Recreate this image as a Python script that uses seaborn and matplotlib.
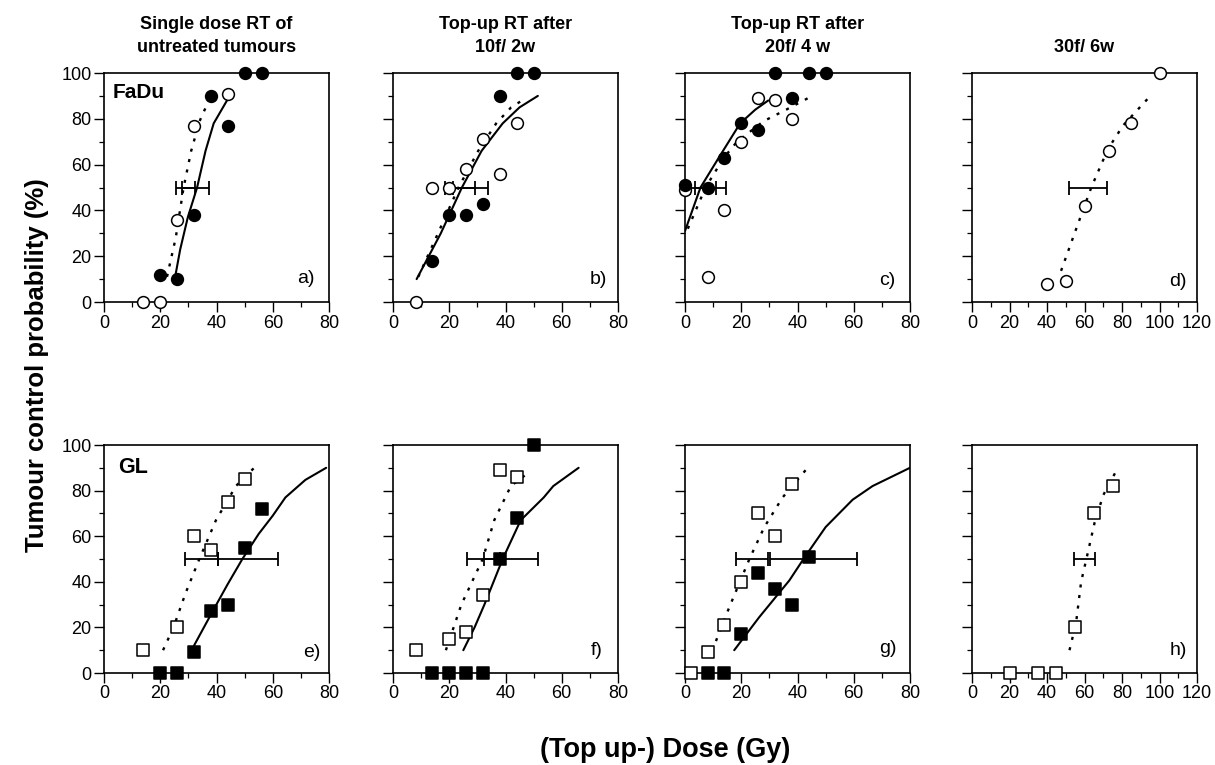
import matplotlib
matplotlib.use("Agg")
import matplotlib.pyplot as plt
import seaborn as sns
from matplotlib.ticker import MultipleLocator

# ---------------- data ----------------
# Panel a : FaDu, single dose RT of untreated tumours
a_filled_x = [20, 26, 32, 38, 44, 50, 56]
a_filled_y = [12, 10, 38, 90, 77, 100, 100]
a_open_x = [14, 20, 26, 32, 44]
a_open_y = [0, 0, 36, 77, 91]
a_solid_x = [25, 27.1, 29.8, 33.1, 36.1, 39, 44.2]
a_solid_y = [9, 23, 37, 50, 66, 78, 89]
a_dot_x = [22.4, 25.5, 28.3, 31, 34, 38]
a_dot_y = [11, 28, 50, 66, 79, 90]
a_err_open = [28.3, 27.6, 32.5]      # centre, low, high
a_err_filled = [31.5, 25.7, 37.3]

# Panel b : FaDu, top-up after 10f/2w
b_filled_x = [14, 20, 26, 32, 38, 44, 50]
b_filled_y = [18, 38, 38, 43, 90, 100, 100]
b_open_x = [8, 14, 20, 26, 32, 38, 44]
b_open_y = [0, 50, 50, 58, 71, 56, 78]
b_solid_x = [8.4, 17, 24.5, 31.5, 39, 45, 51.5]
b_solid_y = [10, 30, 50, 66, 78, 85, 90]
b_dot_x = [9, 16, 23.3, 30.3, 36.7, 42, 47.2]
b_dot_y = [11, 30, 50, 66, 78, 85, 89]
b_err_open = [23.3, 18.6, 29.2]
b_err_filled = [24.5, 21.5, 33.6]

# Panel c : FaDu, top-up after 20f/4w
c_filled_x = [0, 8, 14, 20, 26, 32, 38, 44, 50]
c_filled_y = [51, 50, 63, 78, 75, 100, 89, 100, 100]
c_open_x = [0, 8, 14, 20, 26, 32, 38]
c_open_y = [49, 11, 40, 70, 89, 88, 80]
c_solid_x = [0, 5.5, 12, 19.6, 25, 29.6]
c_solid_y = [31, 50, 63, 78, 84, 88]
c_dot_x = [1, 7.3, 13.8, 18.5, 28, 36, 43.7]
c_dot_y = [32, 50, 63, 70, 79, 84, 89]
c_err_open = [7.3, 1.8, 11.0]
c_err_filled = [5.5, 3.4, 14.7]

# Panel d : FaDu, 30f/6w
d_open_x = [40, 50, 60, 73, 85, 100]
d_open_y = [8, 9, 42, 66, 78, 100]
d_dot_x = [47.5, 55.5, 63.6, 72.5, 80.6, 94.9]
d_dot_y = [13.6, 31.8, 50, 66.8, 77.1, 89.8]
d_err_open = [63.6, 51.6, 72.0]

# Panel e : GL, single dose RT
e_filled_x = [20, 26, 32, 38, 44, 50, 56]
e_filled_y = [0, 0, 9, 27, 30, 55, 72]
e_open_x = [14, 26, 32, 38, 44, 50]
e_open_y = [10, 20, 60, 54, 75, 85]
e_solid_x = [32, 38.6, 44, 49.2, 55, 60, 64.5, 71.6, 79]
e_solid_y = [12, 27, 39, 50, 61, 69, 77, 84.7, 90]
e_dot_x = [21, 24.7, 29, 33.9, 39.8, 46.9, 53.4]
e_dot_y = [10, 20, 35, 50, 67, 82, 90]
e_err_open = [33.9, 28.9, 40.5]
e_err_filled = [49.2, 40.5, 61.9]

# Panel f : GL, top-up after 10f/2w
f_filled_x = [14, 20, 26, 32, 38, 44, 50]
f_filled_y = [0, 0, 0, 0, 50, 68, 100]
f_open_x = [8, 20, 26, 32, 38, 44]
f_open_y = [10, 15, 18, 34, 89, 86]
f_solid_x = [25, 29, 32.5, 39, 45.4, 53.6, 57, 66]
f_solid_y = [10, 20, 30, 50, 67, 77, 82, 90]
f_dot_x = [18.8, 24.3, 31.9, 36, 41.9, 48.3]
f_dot_y = [10, 30, 50, 67, 82, 88]
f_err_open = [31.9, 26.3, 38.0]
f_err_filled = [39.0, 32.5, 51.6]

# Panel g : GL, top-up after 20f/4w
g_filled_x = [8, 14, 20, 26, 32, 38, 44]
g_filled_y = [0, 0, 17, 44, 37, 30, 51]
g_open_x = [2, 8, 14, 20, 26, 32, 38]
g_open_y = [0, 9, 21, 40, 70, 60, 83]
g_solid_x = [17.5, 26.4, 37.1, 42.4, 50, 59.6, 66.7, 80]
g_solid_y = [10, 24.5, 40.6, 50.5, 64, 76, 82, 90]
g_dot_x = [11, 15.8, 22.9, 28.2, 34.7, 43.6]
g_dot_y = [14, 29, 50, 64, 77, 90]
g_err_open = [22.9, 18.3, 29.4]
g_err_filled = [42.4, 30.2, 61.0]

# Panel h : GL, 30f/6w
h_open_x = [20, 35, 45, 55, 65, 75]
h_open_y = [0, 0, 0, 20, 70, 82]
h_dot_x = [52, 55.5, 58.2, 61, 65.4, 70, 76.5]
h_dot_y = [10, 22, 40, 50, 66, 78, 88]
h_err_open = [61.0, 54.6, 65.7]

titles = ["Single dose RT of\nuntreated tumours", "Top-up RT after\n10f/ 2w",
          "Top-up RT after\n20f/ 4 w", "30f/ 6w"]
panel_letters = ["a)", "b)", "c)", "d)", "e)", "f)", "g)", "h)"]
y_ticks = [0, 20, 40, 60, 80, 100]
x_ticks_short = [0, 20, 40, 60, 80]
x_ticks_long = [0, 20, 40, 60, 80, 100, 120]

# ---------------- style ----------------
sns.set_theme(style="ticks")
plt.rcParams["font.family"] = ["Liberation Sans", "DejaVu Sans"]
plt.rcParams["axes.linewidth"] = 1.2

DOTS = (0, (1.3, 3.2))

fig = plt.figure(figsize=(12.15, 7.65), dpi=100)
W, H = 1215.0, 765.0
lefts = [104, 393, 685, 972]
aw = 225
rows = [(73, 302), (445, 673)]

axes = []
for r, (top, bot) in enumerate(rows):
    for c, left in enumerate(lefts):
        ax = fig.add_axes([left / W, (H - bot) / H, aw / W, (bot - top) / H])
        axes.append(ax)


def style_axis(ax, xt, show_ylabels):
    ax.set_xlim(xt[0], xt[-1])
    ax.set_ylim(0, 100)
    ax.set_xticks(xt)
    ax.set_yticks(y_ticks)
    ax.xaxis.set_minor_locator(MultipleLocator(10))
    ax.yaxis.set_minor_locator(MultipleLocator(10))
    ax.tick_params(axis="both", which="major", direction="out", length=7,
                   width=1.0, labelsize=13, pad=2, color="black", labelcolor="black")
    ax.tick_params(axis="both", which="minor", direction="out", length=3.5,
                   width=0.9, color="black")
    ax.tick_params(top=False, right=False, which="both")
    if not show_ylabels:
        ax.set_yticklabels([])
    for s in ax.spines.values():
        s.set_visible(True)
        s.set_color("black")
        s.set_linewidth(1.2)
    ax.set_xlabel("")
    ax.set_ylabel("")


def draw_curve(ax, xs, ys, dotted):
    sns.lineplot(x=xs, y=ys, ax=ax, color="black", sort=False, estimator=None,
                 linewidth=1.7 if dotted else 1.5, zorder=2)
    line = ax.lines[-1]
    if dotted:
        line.set_linestyle(DOTS)
        line.set_dash_capstyle("butt")


def draw_points(ax, xs, ys, marker, filled):
    sns.scatterplot(x=xs, y=ys, ax=ax, marker=marker, s=72,
                    color="black" if filled else "white", edgecolor="black",
                    linewidth=1.1, zorder=5, clip_on=False, legend=False)


def draw_err(ax, err):
    cx, lo, hi = err
    ax.errorbar([cx], [50], xerr=[[cx - lo], [hi - cx]], fmt="none",
                ecolor="black", elinewidth=1.3, capsize=5, capthick=1.3, zorder=3)


panels = [
    (a_filled_x, a_filled_y, a_open_x, a_open_y, a_solid_x, a_solid_y, a_dot_x, a_dot_y, a_err_open, a_err_filled, "o"),
    (b_filled_x, b_filled_y, b_open_x, b_open_y, b_solid_x, b_solid_y, b_dot_x, b_dot_y, b_err_open, b_err_filled, "o"),
    (c_filled_x, c_filled_y, c_open_x, c_open_y, c_solid_x, c_solid_y, c_dot_x, c_dot_y, c_err_open, c_err_filled, "o"),
    (None, None, d_open_x, d_open_y, None, None, d_dot_x, d_dot_y, d_err_open, None, "o"),
    (e_filled_x, e_filled_y, e_open_x, e_open_y, e_solid_x, e_solid_y, e_dot_x, e_dot_y, e_err_open, e_err_filled, "s"),
    (f_filled_x, f_filled_y, f_open_x, f_open_y, f_solid_x, f_solid_y, f_dot_x, f_dot_y, f_err_open, f_err_filled, "s"),
    (g_filled_x, g_filled_y, g_open_x, g_open_y, g_solid_x, g_solid_y, g_dot_x, g_dot_y, g_err_open, g_err_filled, "s"),
    (None, None, h_open_x, h_open_y, None, None, h_dot_x, h_dot_y, h_err_open, None, "s"),
]

letter_pos = [(0.938, 0.083), (0.95, 0.08), (0.933, 0.075), (0.956, 0.07),
              (0.96, 0.07), (0.933, 0.078), (0.942, 0.087), (0.956, 0.08)]

for i, (ax, p) in enumerate(zip(axes, panels)):
    fx, fy, ox, oy, sx, sy, dx, dy, eo, ef, mk = p
    if dx is not None:
        draw_curve(ax, dx, dy, dotted=True)
    if sx is not None:
        draw_curve(ax, sx, sy, dotted=False)
    if eo is not None:
        draw_err(ax, eo)
    if ef is not None:
        draw_err(ax, ef)
    draw_points(ax, ox, oy, mk, filled=False)
    if fx is not None:
        draw_points(ax, fx, fy, mk, filled=True)
    xt = x_ticks_long if i % 4 == 3 else x_ticks_short
    style_axis(ax, xt, show_ylabels=(i % 4 == 0))
    lx, ly = letter_pos[i]
    ax.text(lx, ly, panel_letters[i], transform=ax.transAxes, ha="right",
            va="baseline", fontsize=14, color="black")
    if i < 4:
        ax.set_title(titles[i], fontsize=13, fontweight="bold", pad=15,
                     linespacing=1.45, color="black")

axes[0].text(0.04, 0.956, "FaDu", transform=axes[0].transAxes, ha="left", va="top",
             fontsize=15, fontweight="bold", color="black")
axes[4].text(0.062, 0.947, "GL", transform=axes[4].transAxes, ha="left", va="top",
             fontsize=15.5, fontweight="bold", color="black")

fig.text(37 / W, 1 - 365 / H, "Tumour control probability (%)", rotation=90,
         ha="center", va="center", fontsize=18.5, fontweight="bold", color="black")
fig.text(665 / W, 1 - 757 / H, "(Top up-) Dose (Gy)", ha="center", va="baseline",
         fontsize=19.5, fontweight="bold", color="black")

fig.savefig("out.png", dpi=100)
